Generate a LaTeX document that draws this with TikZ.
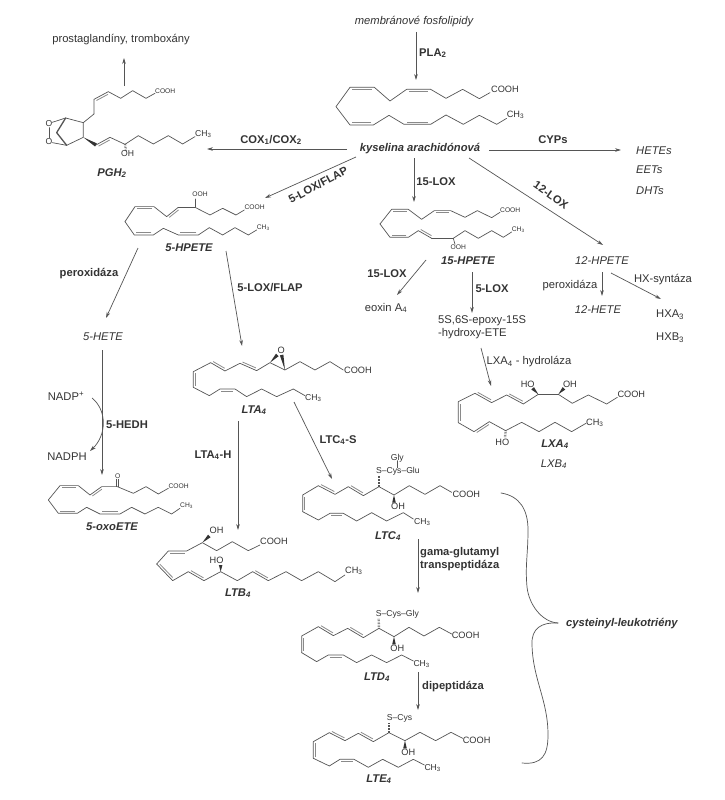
\documentclass[tikz,border=0pt]{standalone}
\usepackage{fontspec}
\setmainfont{Liberation Sans}
\usetikzlibrary{arrows.meta,calc}
\definecolor{tcol}{HTML}{333333}
\definecolor{lcol}{HTML}{555555}
\definecolor{dcol}{HTML}{8A8A8A}
\newcommand\sbs[1]{\textsubscript{#1}}
\newcommand\dbl[2]{\draw[dblbond] ($#1!0.1!#2!2.2pt!-90:#2$) -- ($#2!0.1!#1!2.2pt!90:#1$);}
\newcommand\wdg[2]{\fill[lcol!60!black] #1 -- ($#2!1.8pt!90:#1$) -- ($#2!1.8pt!-90:#1$) -- cycle;}
\newcommand\hsh[2]{\draw[hashbond] #1 -- #2;}
\tikzset{
 lab/.style={font=\fontsize{11.2}{13}\selectfont,text=tcol,inner sep=0pt},
 blab/.style={font=\fontsize{11.2}{13}\selectfont\bfseries,text=tcol,inner sep=0pt},
 ilab/.style={font=\fontsize{11.2}{13}\selectfont\itshape,text=tcol,inner sep=0pt},
 bilab/.style={font=\fontsize{11.2}{13}\selectfont\bfseries\itshape,text=tcol,inner sep=0pt},
 chemS/.style={font=\fontsize{6.7}{8}\selectfont,text=tcol,inner sep=0pt},
 chemM/.style={font=\fontsize{8.6}{9}\selectfont,text=tcol,inner sep=0pt},
 chemL/.style={font=\fontsize{9.2}{10}\selectfont,text=tcol,inner sep=0pt},
 bond/.style={draw=lcol,line width=0.7pt,line join=round,line cap=round},
 dblbond/.style={draw=dcol,line width=0.8pt},
 hashbond/.style={draw=lcol,line width=2.4pt,dash pattern=on 0.5pt off 1pt},
 arr/.style={draw=lcol,line width=0.7pt,-{Stealth[length=6pt,width=3.6pt]}},
 zm/.style 2 args={shift={(#1pt,-#2pt)},x=0.3333pt,y=-0.3333pt},
}
\begin{document}
\begin{tikzpicture}[x=1pt,y=-1pt]
\useasboundingbox (0,0) rectangle (724,800);
\fill[white] (0,0) rectangle (724,800);

% ---------- Arachidonic acid
\begin{scope}[zm={340}{0}]
\draw[bond] (30,262)--(103,262)--(150,303)--(200,268)--(272,268)--(318,295)--(368,268)--(418,296)--(450,278);
\draw[bond] (30,262)--(-12,320)--(30,375)--(100,375)--(147,346)--(192,373)--(272,373)--(318,345)--(370,373)--(418,346)--(470,373)--(500,355);
\dbl{(30,262)}{(103,262)}\dbl{(200,268)}{(272,268)}
\dbl{(100,375)}{(30,375)}\dbl{(272,373)}{(192,373)}
\node[chemL,anchor=west] (aaC) at (453,268) {COOH};
\node[chemL,anchor=west] (aaM) at (500,345) {CH\sbs{3}};
\end{scope}

% ---------- PGH2
\begin{scope}[zm={0}{0}]
\draw[bond] (282,342)--(282,298)--(325,275)--(362,295)--(398,272)--(438,295)--(465,280);
\dbl{(282,298)}{(325,275)}
\draw[bond] (282,342)--(250,368);
\draw[bond] (250,368)--(250,412)--(200,436);
\draw[bond] (250,368)--(197,354)--(157,367);
\draw[bond] (200,436)--(157,428);
\draw[bond] (147,383)--(147,413);
\draw[bond,line width=1.3pt] (197,354)--(170,398)--(200,436);
\wdg{(250,412)}{(288,435)}
\draw[bond] (288,435)--(330,412)--(375,433)--(415,407)--(460,432)--(505,407)--(548,432)--(585,410);
\dbl{(288,435)}{(330,412)}
\hsh{(375,433)}{(378,452)}
\node[chemM] (pO1) at (147,372) {O};
\node[chemM] (pO2) at (147,424) {O};
\node[chemS,anchor=west] (pC) at (465,273) {COOH};
\node[chemM,anchor=west] (pM) at (585,403) {CH\sbs{3}};
\node[chemM] (pOH) at (383,462) {OH};
\end{scope}

% ---------- 5-HPETE
\begin{scope}[zm={0}{0}]
\draw[bond] (375,665)--(405,620)--(462,620)--(500,650)--(535,622);
\draw[bond,line width=1.3pt] (535,622)--(585,622);
\draw[bond] (585,622)--(630,645)--(668,625)--(708,645)--(733,630);
\draw[bond] (585,622)--(585,597);
\draw[bond] (375,665)--(403,705)--(460,705)--(490,685)--(535,705)--(595,705)--(628,683)--(668,705)--(705,683)--(745,705)--(770,690);
\dbl{(405,620)}{(462,620)}\dbl{(500,650)}{(535,622)}
\dbl{(460,705)}{(403,705)}\dbl{(595,705)}{(535,705)}
\node[chemS] (hOOH) at (600,584) {OOH};
\node[chemS,anchor=west] (hC) at (733,623) {COOH};
\node[chemS,anchor=west] (hM) at (770,682) {CH\sbs{3}};
\end{scope}

% ---------- 15-HPETE
\begin{scope}[zm={340}{0}]
\draw[bond] (120,672)--(155,628)--(205,628)--(245,658)--(283,632)--(332,632)--(375,652)--(412,632)--(455,653)--(480,637);
\draw[bond] (120,672)--(150,712)--(205,712)--(235,692)--(275,715);
\draw[bond,line width=1.2pt] (275,715)--(340,715);
\draw[bond] (340,715)--(375,692)--(415,715)--(455,692)--(490,712)--(515,696);
\draw[bond] (340,715)--(345,733);
\dbl{(155,628)}{(205,628)}\dbl{(283,632)}{(332,632)}
\dbl{(205,712)}{(150,712)}\dbl{(275,715)}{(235,692)}
\node[chemS,anchor=west] (wC) at (480,631) {COOH};
\node[chemS,anchor=west] (wM) at (515,690) {CH\sbs{3}};
\node[chemS] (wOOH) at (355,743) {OOH};
\end{scope}

% ---------- 5-oxoETE
\begin{scope}[zm={0}{260}]
\draw[bond] (145,720)--(180,677)--(235,677)--(270,705)--(305,680)--(352,680)--(400,700)--(438,680)--(475,702)--(505,685);
\draw[bond] (145,720)--(175,760)--(232,760)--(260,742)--(300,762)--(360,762)--(395,742)--(435,762)--(475,742)--(515,762)--(540,745);
\draw[bond] (350,680)--(350,658);\draw[bond] (356,680)--(356,658);
\dbl{(180,677)}{(235,677)}\dbl{(270,705)}{(305,680)}
\dbl{(232,760)}{(175,760)}\dbl{(360,762)}{(300,762)}
\node[chemS] (oO) at (353,648) {O};
\node[chemS,anchor=west] (oC) at (505,680) {COOH};
\node[chemS,anchor=west] (oM) at (540,738) {CH\sbs{3}};
\end{scope}

% ---------- LTA4
\begin{scope}[zm={0}{260}]
\draw[bond] (580,382)--(580,335)--(632,308)--(675,333)--(720,310)--(770,332)--(810,308)--(855,330)--(900,305)--(945,330)--(990,305)--(1030,330);
\draw[bond] (580,382)--(628,407)--(660,387)--(705,387)--(740,410)--(785,387)--(830,410)--(880,387)--(915,407);
\wdg{(810,308)}{(832,285)}
\wdg{(855,330)}{(845,285)}
\dbl{(580,382)}{(580,335)}\dbl{(675,333)}{(632,308)}\dbl{(770,332)}{(720,310)}\dbl{(660,387)}{(705,387)}
\node[chemL] (aO) at (844,272) {O};
\node[chemL,anchor=west] (aC) at (1032,331) {COOH};
\node[chemM,anchor=west] (aM) at (915,414) {CH\sbs{3}};
\end{scope}

% ---------- LTB4
\begin{scope}[zm={0}{520}]
\draw[bond] (470,132)--(505,93)--(560,93)--(607,68)--(650,92)--(697,65)--(745,92)--(780,75);
\draw[bond] (470,132)--(518,182)--(565,155)--(612,182)--(662,155)--(712,182)--(758,155)--(805,182)--(858,155)--(905,182)--(955,155)--(1005,185)--(1035,165);
\wdg{(607,68)}{(628,48)}
\wdg{(662,155)}{(662,135)}
\dbl{(505,93)}{(560,93)}\dbl{(518,182)}{(470,132)}\dbl{(612,182)}{(565,155)}\dbl{(805,182)}{(758,155)}
\node[chemL] (bOH) at (650,32) {OH};
\node[chemL] (bHO) at (650,122) {HO};
\node[chemL,anchor=west] (bC) at (780,63) {COOH};
\node[chemL,anchor=west] (bM) at (1035,152) {CH\sbs{3}};
\end{scope}

% ---------- LXA4
\begin{scope}[zm={340}{260}]
\draw[bond] (355,488)--(355,425)--(405,400)--(455,428)--(500,405)--(550,432)--(595,403);
\draw[bond,line width=1.2pt] (595,403)--(655,403);
\draw[bond] (655,403)--(697,430)--(745,405)--(800,432)--(832,412);
\draw[bond] (355,488)--(402,515)--(448,485)--(497,512)--(545,487)--(597,515)--(645,487)--(695,515)--(738,490);
\wdg{(595,403)}{(578,385)}
\wdg{(655,403)}{(672,385)}
\hsh{(497,512)}{(495,533)}
\dbl{(455,428)}{(405,400)}\dbl{(550,432)}{(500,405)}\dbl{(355,488)}{(355,425)}\dbl{(402,515)}{(448,485)}
\node[chemL] (xHO) at (563,372) {HO};
\node[chemL] (xOH) at (690,372) {OH};
\node[chemL,anchor=west] (xC) at (832,403) {COOH};
\node[chemL,anchor=west] (xM) at (738,488) {CH\sbs{3}};
\node[chemL] (xHO2) at (487,547) {HO};
\end{scope}

% ---------- LTC4
\begin{scope}[zm={280}{470}]
\draw[bond] (68,125)--(68,75)--(115,47)--(165,73)--(205,50)--(250,77)--(297,50)--(342,75)--(388,47)--(435,73)--(480,47)--(515,67);
\draw[bond] (68,125)--(115,150)--(150,130)--(190,130)--(230,153)--(275,128)--(320,153)--(370,128)--(400,147);
\hsh{(297,50)}{(297,14)}
\wdg{(342,75)}{(342,98)}
\dbl{(68,125)}{(68,75)}\dbl{(165,73)}{(115,47)}\dbl{(250,77)}{(205,50)}\dbl{(150,130)}{(190,130)}
\node[chemM,anchor=west] (cS) at (288,4) {S--Cys--Glu};
\node[chemM] (cG) at (352,-36) {Gly};
\draw[bond] (352,-28)--(352,-7);
\node[chemL,anchor=west] (cC) at (517,72) {COOH};
\node[chemL] (cOH) at (354,110) {OH};
\node[chemM,anchor=west] (cM) at (402,157) {CH\sbs{3}};
\end{scope}

% ---------- LTD4
\begin{scope}[zm={280}{470}]
\draw[bond] (65,548)--(65,498)--(115,470)--(160,497)--(203,475)--(250,503)--(297,475)--(342,500)--(387,472)--(432,498)--(478,472)--(515,492);
\draw[bond] (65,548)--(110,575)--(145,555)--(190,555)--(230,578)--(275,555)--(320,578)--(365,555)--(400,573);
\hsh{(297,475)}{(296,446)}
\wdg{(342,500)}{(342,523)}
\dbl{(65,548)}{(65,498)}\dbl{(160,497)}{(115,470)}\dbl{(250,503)}{(203,475)}\dbl{(145,555)}{(190,555)}
\node[chemM,anchor=west] (dS) at (287,432) {S--Cys--Gly};
\node[chemL,anchor=west] (dC) at (515,497) {COOH};
\node[chemL] (dOH) at (352,535) {OH};
\node[chemM,anchor=west] (dM) at (400,583) {CH\sbs{3}};
\end{scope}

% ---------- LTE4
\begin{scope}[zm={280}{470}]
\draw[bond] (100,865)--(100,815)--(148,788)--(195,812)--(235,790)--(280,815)--(327,788)--(375,812)--(420,787)--(467,812)--(513,787)--(548,805);
\draw[bond] (100,865)--(148,888)--(180,868)--(222,868)--(265,892)--(308,868)--(355,892)--(400,868)--(433,885);
\hsh{(327,788)}{(327,758)}
\wdg{(375,812)}{(375,835)}
\dbl{(100,865)}{(100,815)}\dbl{(195,812)}{(148,788)}\dbl{(280,815)}{(235,790)}\dbl{(180,868)}{(222,868)}
\node[chemM,anchor=west] (eS) at (320,745) {S--Cys};
\node[chemL,anchor=west] (eC) at (548,810) {COOH};
\node[chemL] (eOH) at (385,848) {OH};
\node[chemM,anchor=west] (eM) at (433,895) {CH\sbs{3}};
\end{scope}

% ---------- Text labels
\node[ilab] (memb) at (414,22) {membránové fosfolipidy};
\node[blab,anchor=west] (pla) at (419,53) {PLA\sbs{2}};
\node[lab] (prost) at (121,40) {prostaglandíny, tromboxány};
\node[bilab] (kys) at (420,149) {kyselina arachidónová};
\node[blab] (cox) at (271,140) {COX\sbs{1}/COX\sbs{2}};
\node[blab] (cyp) at (553,140) {CYPs};
\node[ilab,anchor=west] (hetes) at (636,151) {HETEs};
\node[ilab,anchor=west] (eets) at (636,170) {EETs};
\node[ilab,anchor=west] (dhts) at (636,191) {DHTs};
\node[blab,rotate=28] (lox5a) at (318,185) {5-LOX/FLAP};
\node[blab] (lox15a) at (436,182) {15-LOX};
\node[blab,rotate=-35] (lox12) at (551,195) {12-LOX};
\node[bilab] (pgh) at (112,173) {PGH\sbs{2}};
\node[bilab] (hpete5) at (189,248) {5-HPETE};
\node[bilab] (hpete15) at (468,261) {15-HPETE};
\node[ilab] (hpete12) at (602,261) {12-HPETE};
\node[blab] (perox) at (89,274) {peroxidáza};
\node[blab] (lox5b) at (270,288) {5-LOX/FLAP};
\node[ilab] (hete5) at (103,337) {5-HETE};
\node[lab] (nadp) at (66,396) {NADP\textsuperscript{+}};
\node[lab] (nadph) at (67,457) {NADPH};
\node[blab] (hedh) at (127,425) {5-HEDH};
\node[bilab] (oxo) at (112,527) {5-oxoETE};
\node[bilab] (lta) at (254,410) {LTA\sbs{4}};
\node[blab] (ltah) at (213,455) {LTA\sbs{4}-H};
\node[blab] (ltcs) at (338,440) {LTC\sbs{4}-S};
\node[bilab] (ltb) at (238,593) {LTB\sbs{4}};
\node[bilab] (ltc) at (388,536) {LTC\sbs{4}};
\node[bilab] (ltd) at (377,677) {LTD\sbs{4}};
\node[bilab] (lte) at (379,779) {LTE\sbs{4}};
\node[blab] (lox15b) at (387,274) {15-LOX};
\node[lab] (eoxin) at (386,308) {eoxin A\sbs{4}};
\node[blab] (lox5c) at (492,289) {5-LOX};
\node[lab,anchor=west] (epo1) at (438,321) {5S,6S-epoxy-15S};
\node[lab,anchor=west] (epo2) at (438,334) {-hydroxy-ETE};
\node[lab] (lxah) at (529,362) {LXA\sbs{4} - hydroláza};
\node[bilab] (lxa) at (555,444) {LXA\sbs{4}};
\node[ilab] (lxb) at (554,464) {LXB\sbs{4}};
\node[lab] (pero12) at (570,286) {peroxidáza};
\node[ilab] (hete12) at (598,310) {12-HETE};
\node[lab] (hxs) at (663,280) {HX-syntáza};
\node[lab,anchor=west] (hxa) at (656,315) {HXA\sbs{3}};
\node[lab,anchor=west] (hxb) at (656,338) {HXB\sbs{3}};
\node[blab,anchor=west] (gama1) at (420,553) {gama-glutamyl};
\node[blab,anchor=west] (gama2) at (420,566) {transpeptidáza};
\node[blab,anchor=west] (dipep) at (422,687) {dipeptidáza};
\node[bilab,anchor=west] (cyst) at (566,624) {cysteinyl-leukotriény};

% ---------- Free connector ends
\coordinate (aaIn) at (416,80);
\coordinate (membOut) at (416,32);
\coordinate (pgOut) at (124,86);
\coordinate (pgIn) at (124,58);
\coordinate (coxS) at (347,149);
\coordinate (coxE) at (207,149);
\coordinate (kL) at (356,157);
\coordinate (hpIn) at (265,198);
\coordinate (cyS) at (489,150);
\coordinate (cyE) at (621,150);
\coordinate (k15) at (414,158);
\coordinate (w15) at (414,202);
\coordinate (k12) at (469,158);
\coordinate (h12) at (603,245);
\coordinate (hpL) at (138,248);
\coordinate (h5T) at (106,318);
\coordinate (hpR) at (226,251);
\coordinate (ltaIn) at (242,346);
\coordinate (h5B) at (102,350);
\coordinate (oxIn) at (102,475);
\coordinate (nadS) at (92,398);
\coordinate (nadE) at (90,451);
\coordinate (ltaB) at (238,421);
\coordinate (ltbIn) at (238,530);
\coordinate (ltaR) at (294,402);
\coordinate (ltcIn) at (332,479);
\coordinate (wL) at (426,260);
\coordinate (eoIn) at (397,295);
\coordinate (wB) at (472,272);
\coordinate (epIn) at (472,313);
\coordinate (epB) at (481,348);
\coordinate (lxIn) at (491,386);
\coordinate (t12) at (602,272);
\coordinate (h12b) at (602,296);
\coordinate (t12r) at (611,273);
\coordinate (hxIn) at (661,299);
\coordinate (ltcB) at (418,539);
\coordinate (ltdIn) at (418,593);
\coordinate (ltdB) at (418,672);
\coordinate (lteIn) at (418,710);

% ---------- Connectors
\draw[arr] (membOut) -- (aaIn);
\draw[arr] (pgOut) -- (pgIn);
\draw[arr] (coxS) -- (coxE);
\draw[arr] (kL) -- (hpIn);
\draw[arr] (cyS) -- (cyE);
\draw[arr] (k15) -- (w15);
\draw[arr] (k12) -- (h12);
\draw[arr] (hpL) -- (h5T);
\draw[arr] (hpR) -- (ltaIn);
\draw[arr] (h5B) -- (oxIn);
\draw[arr] (nadS) .. controls (107,410) and (107,435) .. (nadE);
\draw[arr] (ltaB) -- (ltbIn);
\draw[arr] (ltaR) -- (ltcIn);
\draw[arr] (wL) -- (eoIn);
\draw[arr,line width=0.9pt] (wB) -- (epIn);
\draw[arr] (epB) -- (lxIn);
\draw[arr] (t12) -- (h12b);
\draw[arr] (t12r) -- (hxIn);
\draw[arr] (ltcB) -- (ltdIn);
\draw[arr] (ltdB) -- (lteIn);

% ---------- Brace
\draw[bond] (501,493) .. controls (520,496) and (528,510) .. (528,530) .. controls (528,555) and (525,565) .. (527,587) .. controls (529,605) and (542,622) .. (558,623);
\draw[bond] (558,623) .. controls (542,622) and (531,628) .. (532,645) .. controls (533,680) and (548,700) .. (548,735) .. controls (548,755) and (542,765) .. (522,763);
\end{tikzpicture}
\end{document}
